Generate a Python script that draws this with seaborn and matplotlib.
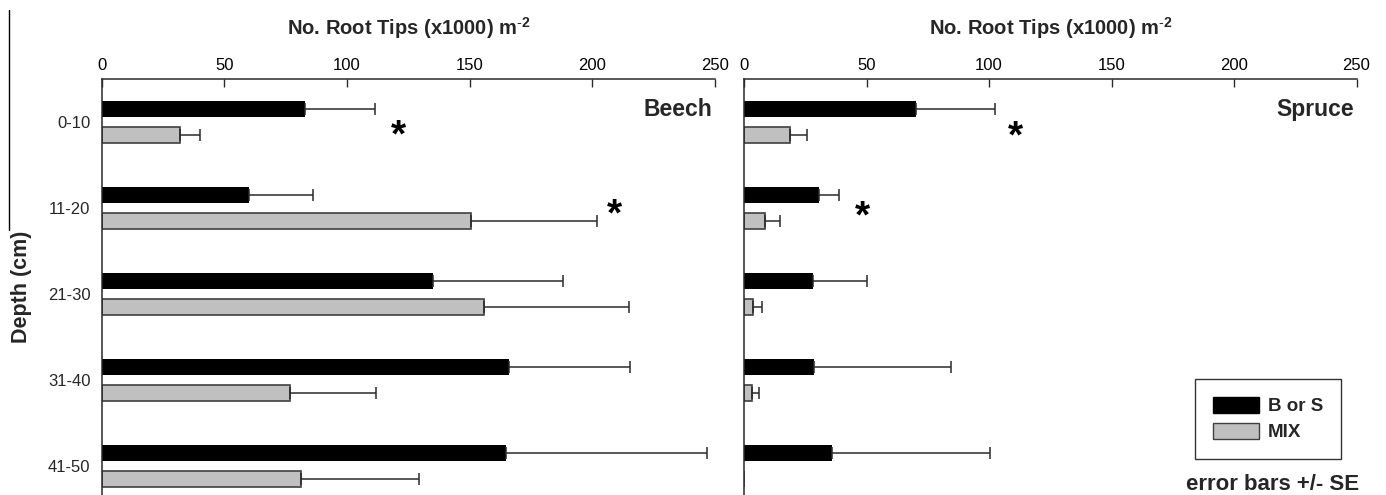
import numpy as np
import pandas as pd
import matplotlib
matplotlib.use('Agg')
import matplotlib.pyplot as plt
from matplotlib.patches import Patch
from matplotlib.lines import Line2D
import seaborn as sns

sns.set_theme(style='white')
plt.rcParams['font.family'] = ['Liberation Sans', 'DejaVu Sans']
plt.rcParams['mathtext.fontset'] = 'custom'
plt.rcParams['mathtext.rm'] = 'Liberation Sans'
plt.rcParams['mathtext.bf'] = 'Liberation Sans:bold'

DEPTHS = ['0-10', '11-20', '21-30', '31-40', '41-50']
GROUPS = ['B or S', 'MIX']

BEECH_MONO = [83, 60, 135, 166, 165]
BEECH_MONO_SE = [28.5, 26, 53, 49.5, 81.7]
BEECH_MIX = [32, 150.5, 156, 77, 81.4]
BEECH_MIX_SE = [8, 51.5, 59, 34.7, 48]

SPRUCE_MONO = [70, 30.7, 28.2, 28.5, 36]
SPRUCE_MONO_SE = [32.3, 8.1, 21.8, 56, 64.6]
SPRUCE_MIX = [18.8, 8.5, 3.8, 3.1, 0]
SPRUCE_MIX_SE = [7, 6, 3.4, 3.2, 0]

# significance stars: (value, depth position)
BEECH_STARS = [(121, 0.17), (209, 1.09)]
SPRUCE_STARS = [(111, 0.18), (48.5, 1.11)]

XLABEL = r'No. Root Tips (x1000) m$^{\mathbf{\text{-}2}}$'
COLORS = ['#000000', '#c0c0c0']
EDGE = '#404040'
LINE = '#2a2a2a'


def panel_frame(mono, mix):
    return pd.DataFrame({
        'Depth': DEPTHS * 2,
        'Group': [GROUPS[0]] * len(DEPTHS) + [GROUPS[1]] * len(DEPTHS),
        'Value': list(mono) + list(mix),
    })


def draw_panel(ax, mono, mono_se, mix, mix_se, name, stars, show_y):
    df = panel_frame(mono, mix)
    sns.barplot(data=df, x='Value', y='Depth', hue='Group', order=DEPTHS,
                hue_order=GROUPS, palette=COLORS, orient='h', width=0.6,
                gap=0.38, errorbar=None, legend=False, ax=ax, linewidth=0)
    for bar in ax.containers[1]:
        bar.set_edgecolor(EDGE)
        bar.set_linewidth(1.2)

    for container, se in zip(ax.containers, [mono_se, mix_se]):
        xs, ys, errs = [], [], []
        for bar, e in zip(container, se):
            if e <= 0:
                continue
            xs.append(bar.get_width())
            ys.append(bar.get_y() + bar.get_height() / 2)
            errs.append(e)
        ax.errorbar(xs, ys, xerr=[np.zeros(len(errs)), errs], fmt='none',
                    ecolor=LINE, elinewidth=1.1, capsize=4.5, capthick=1.1)

    for x, y in stars:
        ax.text(x, y, '*', fontsize=28, fontweight='bold', ha='center',
                va='center', color='black')
    ax.text(249, -0.15, name, fontsize=16.5, fontweight='bold', ha='right',
            va='center')

    ax.set_xlim(0, 250)
    ax.set_ylim(4.337, -0.5)
    ax.set_xticks([0, 50, 100, 150, 200, 250])
    ax.xaxis.set_ticks_position('top')
    ax.xaxis.set_label_position('top')
    ax.tick_params(axis='x', direction='in', length=6, width=1, color=LINE,
                   labelsize=12, pad=4, labelcolor='black')
    ax.tick_params(axis='y', length=0, labelsize=12, pad=8)
    ax.set_xlabel(XLABEL, fontsize=14.5, fontweight='bold', labelpad=17)
    for side in ['right', 'bottom']:
        ax.spines[side].set_visible(False)
    for side in ['left', 'top']:
        ax.spines[side].set_color(LINE)
        ax.spines[side].set_linewidth(1.1)
    if show_y:
        ax.set_ylabel('Depth (cm)', fontsize=15.5, fontweight='bold', labelpad=11)
    else:
        ax.set_ylabel('')
        ax.set_yticklabels([])


fig = plt.figure(figsize=(13.86, 4.95), dpi=100)
ax_beech = fig.add_axes([101.5 / 1386, 0, 613.5 / 1386, 416 / 495])
ax_spruce = fig.add_axes([744 / 1386, 0, 612.5 / 1386, 416 / 495])

draw_panel(ax_beech, BEECH_MONO, BEECH_MONO_SE, BEECH_MIX, BEECH_MIX_SE,
           'Beech', BEECH_STARS, True)
draw_panel(ax_spruce, SPRUCE_MONO, SPRUCE_MONO_SE, SPRUCE_MIX, SPRUCE_MIX_SE,
           'Spruce', SPRUCE_STARS, False)

handles = [Patch(facecolor=COLORS[0], edgecolor='#000000', linewidth=1),
           Patch(facecolor=COLORS[1], edgecolor=EDGE, linewidth=1)]
leg = fig.legend(handles, GROUPS, loc='center',
                 bbox_to_anchor=(1268 / 1386, 1 - 419 / 495),
                 prop={'weight': 'bold', 'size': 13.5}, frameon=True,
                 fancybox=False, edgecolor='black', handlelength=2.45,
                 handleheight=0.95, labelspacing=0.4, handletextpad=0.5,
                 borderpad=0.95)
leg.get_frame().set_linewidth(1.0)

fig.text(1273 / 1386, 1 - 485 / 495, 'error bars +/- SE', fontsize=16,
         fontweight='bold', ha='center', va='center')

# stray rule at the far left edge of the scanned figure
fig.add_artist(Line2D([9 / 1386, 9 / 1386], [1 - 10 / 495, 1 - 230 / 495],
                      color='black', linewidth=1))

fig.savefig('out.png', dpi=100)
